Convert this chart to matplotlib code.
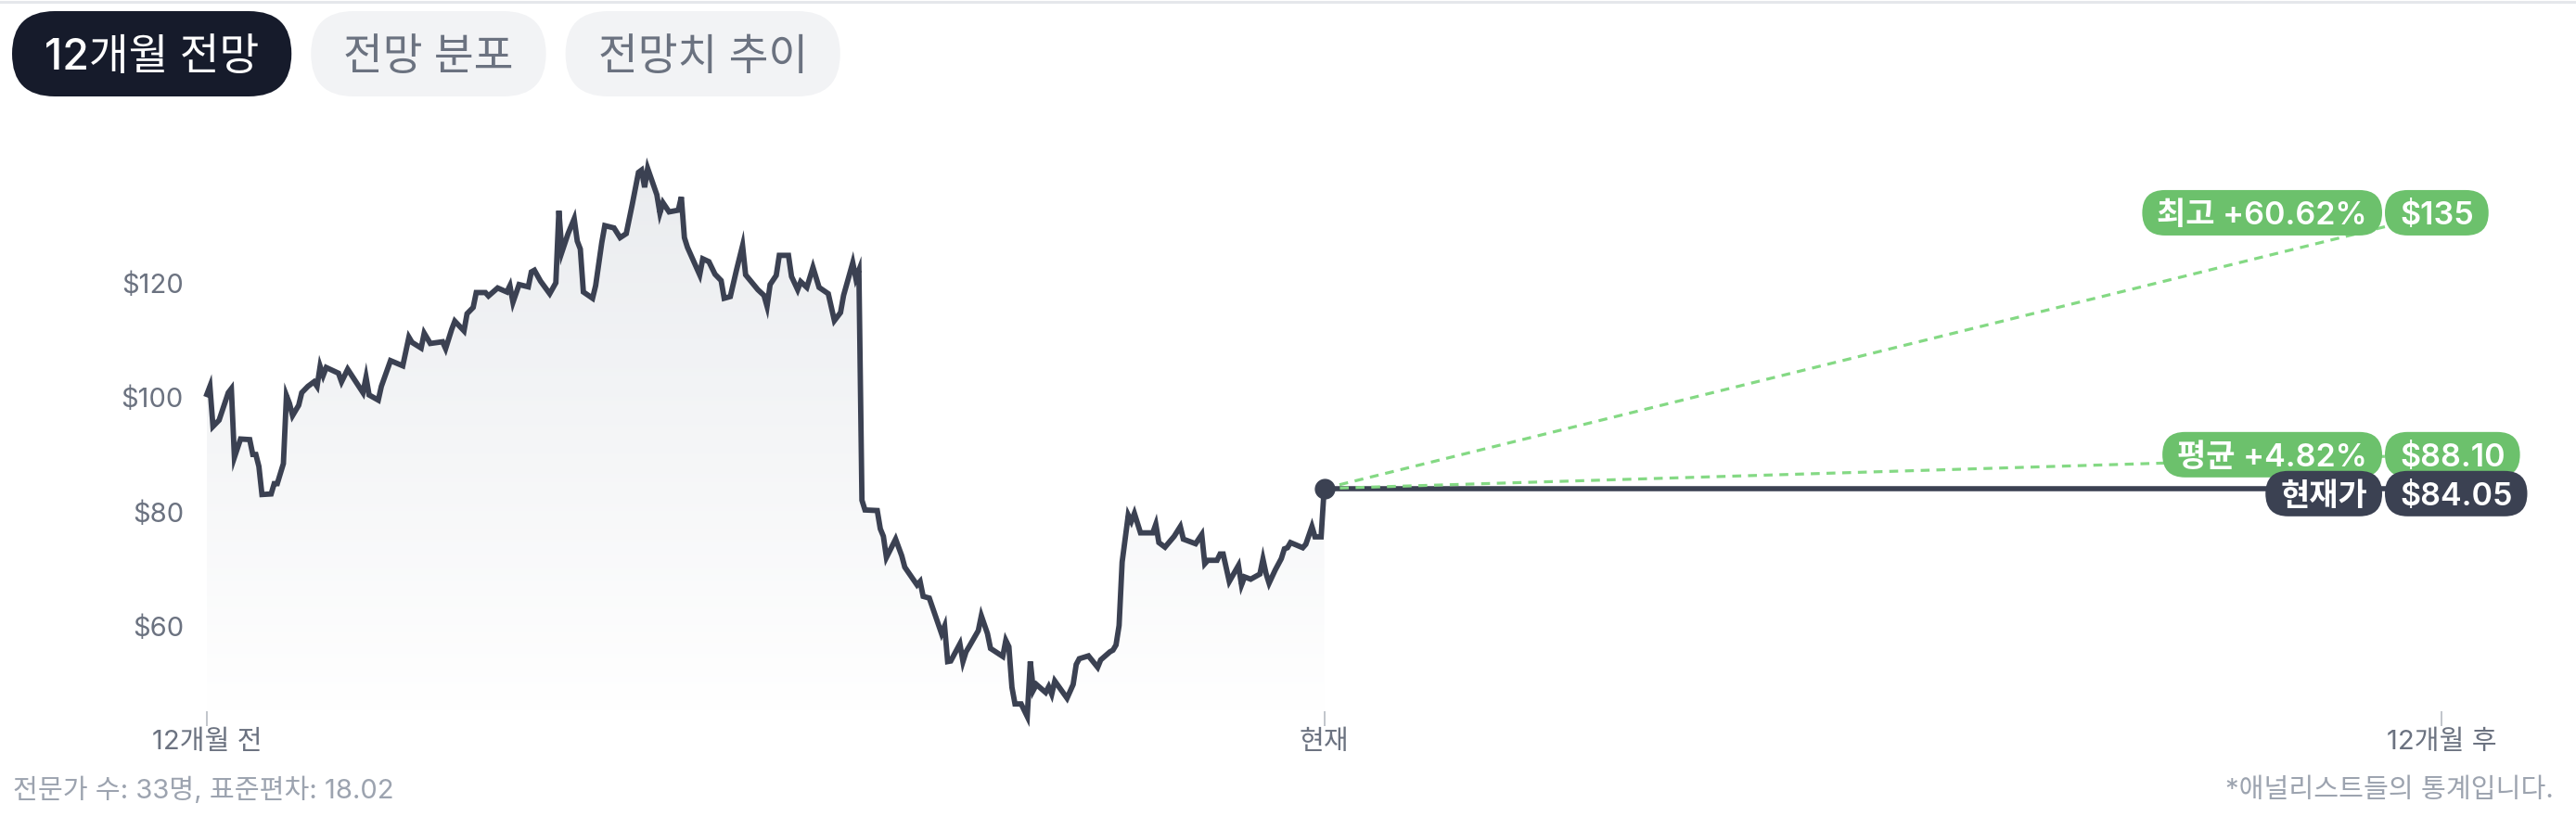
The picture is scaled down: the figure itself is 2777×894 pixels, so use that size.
import numpy as np
import matplotlib
matplotlib.use("Agg")
import matplotlib.pyplot as plt
from matplotlib.patches import FancyBboxPatch, Polygon
from matplotlib.lines import Line2D
from matplotlib.transforms import IdentityTransform
from matplotlib.colors import LinearSegmentedColormap

plt.rcParams['font.family'] = ['Inter', 'Noto Sans CJK KR', 'DejaVu Sans']

W, H, DPI = 2777, 894, 100

# price over the last 12 months (day 0 = 12개월 전, day 365 = 현재)
days = [0, 1, 2, 4, 7, 8, 9, 11, 14, 15,
        16, 17, 18, 21, 22, 23, 25, 26, 27, 28,
        30, 31, 33, 35, 36, 37, 38, 39, 43, 44,
        46, 51, 52, 53, 56, 57, 59, 60, 64, 66,
        67, 70, 71, 73, 77, 78, 80, 81, 84, 85,
        87, 88, 91, 92, 95, 98, 99, 100, 102, 105,
        106, 107, 109, 112, 114, 115, 116, 118, 120, 121,
        122, 123, 126, 127, 129, 130, 133, 135, 137, 139,
        141, 142, 143, 144, 147, 148, 149, 151, 154, 155,
        156, 157, 161, 162, 164, 166, 168, 169, 171, 173,
        175, 176, 180, 182, 183, 184, 186, 187, 190, 191,
        193, 194, 196, 198, 200, 203, 205, 207, 208, 211,
        212, 213, 214, 215, 219, 220, 221, 222, 225, 227,
        228, 232, 233, 234, 236, 238, 240, 241, 242, 243,
        246, 247, 248, 249, 252, 253, 255, 256, 260, 261,
        262, 263, 264, 266, 268, 269, 270, 271, 274, 275,
        276, 277, 281, 283, 284, 285, 288, 291, 292, 295,
        296, 297, 298, 299, 301, 302, 303, 305, 309, 310,
        311, 313, 316, 318, 319, 323, 325, 326, 327, 330,
        331, 332, 334, 337, 338, 339, 341, 344, 345, 346,
        347, 349, 351, 352, 353, 354, 358, 359, 361, 362,
        364, 365]
prices = [100.5, 101.9, 94.9, 96.0, 100.8, 101.5, 89.5, 92.7, 92.6, 90.0,
          90.0, 87.9, 83.0, 83.1, 84.9, 84.9, 88.4, 100.3, 98.9, 96.8,
          98.6, 100.8, 101.9, 102.7, 101.9, 105.4, 103.8, 105.2, 104.2, 102.7,
          104.9, 100.8, 103.5, 100.4, 99.5, 101.9, 104.9, 106.4, 105.5, 110.5,
          109.6, 108.6, 111.2, 109.4, 109.7, 108.5, 111.9, 113.3, 111.6, 114.6,
          115.7, 118.3, 118.3, 117.7, 119.1, 118.4, 119.5, 116.6, 119.7, 119.3,
          121.9, 122.2, 120.3, 118.1, 120.0, 132.6, 125.4, 128.6, 131.2, 127.3,
          125.9, 118.4, 117.3, 119.5, 127.0, 130.0, 129.6, 127.9, 128.6, 133.8,
          139.3, 139.7, 136.7, 140.0, 135.4, 132.2, 134.0, 132.4, 132.7, 135.0,
          127.9, 126.2, 121.4, 124.2, 123.7, 121.5, 120.4, 117.3, 117.6, 122.2,
          126.5, 121.4, 118.8, 117.8, 115.9, 119.7, 121.3, 124.8, 124.8, 121.1,
          118.8, 120.2, 119.2, 122.7, 119.2, 118.1, 113.4, 114.8, 117.8, 123.5,
          120.8, 122.2, 82.0, 80.3, 80.2, 77.0, 75.7, 72.0, 75.2, 72.3,
          70.3, 67.2, 67.8, 65.2, 64.9, 61.8, 58.7, 60.0, 53.8, 53.9,
          56.9, 53.8, 55.5, 56.4, 59.2, 61.8, 58.7, 56.1, 54.7, 57.5,
          56.4, 49.3, 46.4, 46.4, 44.2, 53.8, 48.8, 49.8, 48.4, 49.4,
          48.1, 50.4, 47.4, 49.8, 53.3, 54.3, 54.8, 52.8, 54.1, 55.5,
          55.8, 56.7, 60.1, 71.2, 79.4, 78.3, 79.7, 76.3, 76.3, 77.8,
          74.6, 73.8, 75.7, 77.4, 75.2, 74.4, 76.0, 70.9, 71.5, 71.5,
          72.6, 72.6, 67.8, 70.6, 67.2, 68.6, 68.2, 69.1, 71.7, 69.2,
          67.5, 69.8, 71.8, 73.5, 73.7, 74.6, 73.7, 74.3, 77.4, 75.6,
          75.6, 84.05]
assert len(days) == len(prices)

current_price = 84.05
high_target = 135
mean_target = 88.10
analyst_count = 33
target_std = 18.02
horizon = 730  # 12개월 후

tabs = ["12개월 전망", "전망 분포", "전망치 추이"]
x_tick_pos = [0, 365, 730]
x_tick_labels = ["12개월 전", "현재", "12개월 후"]
y_ticks = [60, 80, 100, 120]

DARK = '#3b4152'
GREEN = '#6cc16c'
DASH = '#84d984'
GRAY = '#6b7280'
LIGHT = '#9ca3af'

fig = plt.figure(figsize=(W / DPI, H / DPI), dpi=DPI)
fig.patch.set_facecolor('white')
renderer = fig.canvas.get_renderer()


def pill(x, cy, s, fc, tc, fs, padx, h, ha, weight='medium'):
    # x, cy in display pixels, origin bottom-left
    fs_px = fs * DPI / 72
    tx = x + padx if ha == 'left' else (x - padx if ha == 'right' else x)
    t = fig.text(tx, cy - 0.36 * fs_px, s, transform=IdentityTransform(), ha=ha,
                 va='baseline', color=tc, fontsize=fs, weight=weight, zorder=6)
    bb = t.get_window_extent(renderer)
    box = FancyBboxPatch((bb.x0 - padx, cy - h / 2), bb.width + 2 * padx, h,
                         boxstyle=f"round,pad=0,rounding_size={h / 2}",
                         transform=IdentityTransform(), fc=fc, ec='none', zorder=5)
    fig.add_artist(box)
    return bb.x0 - padx, bb.x1 + padx


# top border
fig.add_artist(Line2D([0, 1], [1 - 1.5 / H] * 2, color='#e5e7eb', lw=2.2,
                      transform=fig.transFigure))

# tabs
x0 = 13
for i, name in enumerate(tabs):
    fc, tc = ('#161b2b', 'white') if i == 0 else ('#f2f3f5', GRAY)
    left, right = pill(x0, H - 58, name, fc, tc, 33.5, 35, 92, 'left')
    x0 = right + 21

# main axes
ax_l, ax_r, ax_t, ax_b = 223, 2632, 150, 767
ax = fig.add_axes([ax_l / W, (H - ax_b) / H, (ax_r - ax_l) / W, (ax_b - ax_t) / H])
ymin = 120 - (ax_b - 305) / 6.17
ymax = 120 + (305 - ax_t) / 6.17

verts = [(days[0], ymin)] + list(zip(days, prices)) + [(days[-1], ymin)]
clip = Polygon(verts, closed=True, fc='none', ec='none')
ax.add_patch(clip)
cmap = LinearSegmentedColormap.from_list('fade', ['#ffffff', '#eaecef'])
grad = ax.imshow(np.linspace(0, 1, 256).reshape(-1, 1), cmap=cmap, origin='lower',
                 extent=[0, 365, ymin, max(prices)], aspect='auto', zorder=1)
grad.set_clip_path(clip)

ax.plot(days, prices, color=DARK, lw=4.2, solid_joinstyle='miter', zorder=3,
        clip_on=False)

ax.set_xlim(0, horizon)
ax.set_ylim(ymin, ymax)
for s in ax.spines.values():
    s.set_visible(False)
ax.set_xticks(x_tick_pos, x_tick_labels)
ax.set_yticks(y_ticks, [f"${v}" for v in y_ticks])
ax.tick_params(axis='x', length=11.5, width=1.1, color='#b0b5bd', pad=3,
               labelsize=21, labelcolor=GRAY)
ax.tick_params(axis='y', length=0, pad=18, labelsize=21, labelcolor=GRAY)

# current price line and forecast targets
ax.plot([365, horizon], [current_price, current_price], color=DARK, lw=4.0,
        zorder=4, clip_on=False)

targets = [("최고", high_target, GREEN, -17),
           ("평균", mean_target, GREEN, 11.5),
           ("현재가", current_price, DARK, -5.5)]
inv = ax.transData.inverted()
for name, val, col, dy in targets:
    px, py = ax.transData.transform((horizon, val))
    ay = py + dy
    if name != "현재가":
        ex, ey = inv.transform((px, ay))
        ax.plot([365, ex], [current_price, ey], color=DASH, lw=2.3,
                dashes=(3, 2.3), zorder=5, clip_on=False)
        label = f"{name} {(val / current_price - 1) * 100:+.2f}%"
        vtxt = f"${val:.2f}" if val != int(val) else f"${int(val)}"
    else:
        label = name
        vtxt = f"${val:.2f}"
    pill(px - 64, ay, label, col, 'white', 24.5, 16, 49, 'right', 'semibold')
    pill(px - 61, ay, vtxt, col, 'white', 24.5, 16, 49, 'left', 'semibold')

ax.plot(365, current_price, 'o', ms=15, color=DARK, zorder=6, clip_on=False)

# footer
fs_px = 21 * DPI / 72
fig.text(14, H - 850 - 0.36 * fs_px,
         f"전문가 수: {analyst_count}명, 표준편차: {target_std:.2f}",
         transform=IdentityTransform(), ha='left', va='baseline', fontsize=21,
         color=LIGHT)
fig.text(2753, H - 850 - 0.36 * fs_px, "*애널리스트들의 통계입니다.",
         transform=IdentityTransform(), ha='right', va='baseline', fontsize=21,
         color=LIGHT)

fig.savefig('out.png', dpi=DPI, facecolor='white')
